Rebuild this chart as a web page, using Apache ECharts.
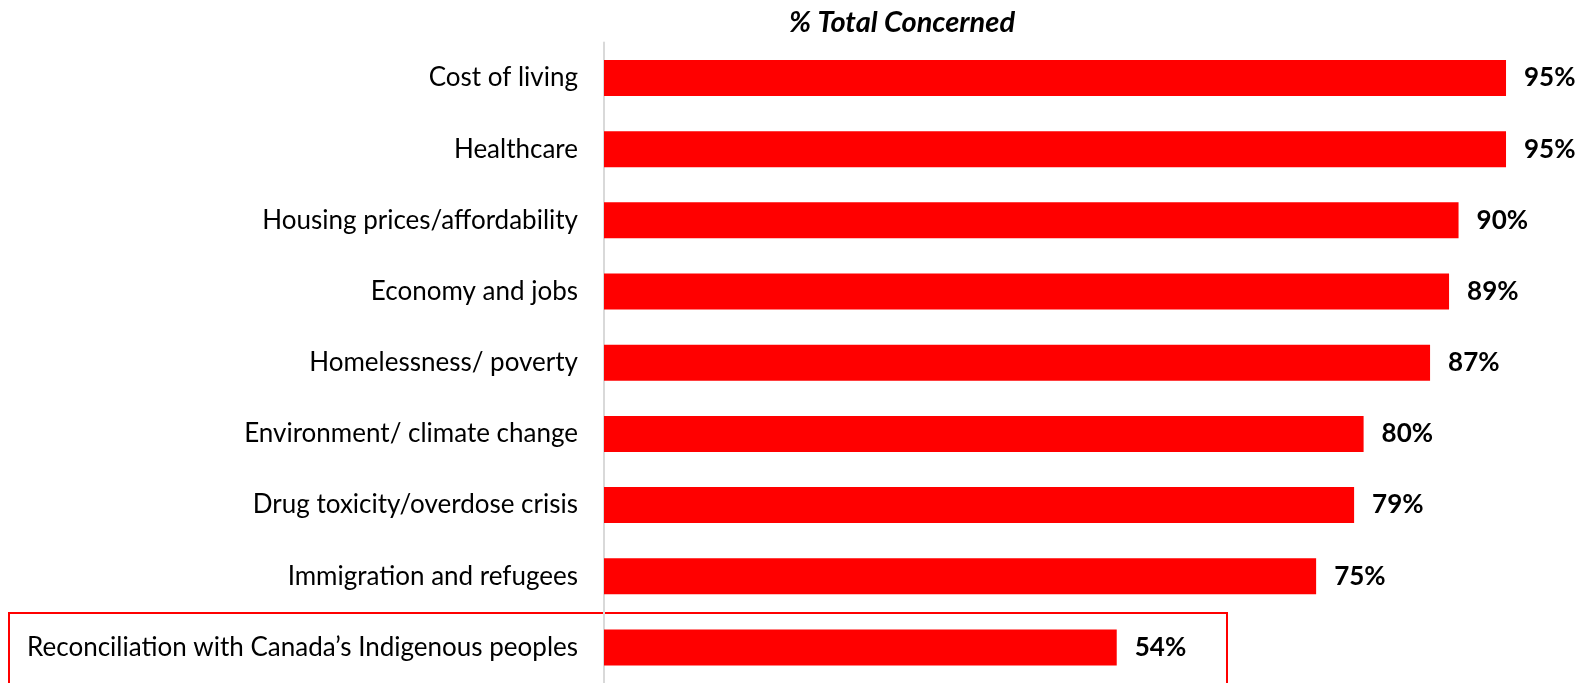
<!DOCTYPE html>
<html><head><meta charset="utf-8">
<script src="https://cdn.jsdelivr.net/npm/echarts@6/dist/echarts.min.js"></script>
<style>html,body{margin:0;padding:0;background:#fff}#c{width:1583px;height:683px}</style>
</head><body><div id="c"></div>
<script>
const categories = ["Cost of living","Healthcare","Housing prices/affordability","Economy and jobs","Homelessness/ poverty","Environment/ climate change","Drug toxicity/overdose crisis","Immigration and refugees","Reconciliation with Canada\u2019s Indigenous peoples"];
const values = [95,95,90,89,87,80,79,75,54];
const titleText = "% Total Concerned";
const FONT = "Lato";

const chart = echarts.init(document.getElementById('c'));
chart.setOption({
  animation:false,
  title:{text:titleText,left:897,top:3,textAlign:'center',textStyle:{fontFamily:FONT,fontSize:29,fontWeight:'bold',fontStyle:'italic',color:'#000'}},
  grid:{left:604,top:42.4,width:949.5,height:641.25,containLabel:false},
  xAxis:{type:'value',min:0,max:100,show:false},
  yAxis:{type:'category',data:categories,inverse:true,
    axisLine:{show:true,lineStyle:{color:'#d9d9d9',width:2}},
    axisTick:{show:false},
    axisLabel:{margin:26,fontFamily:FONT,fontSize:26,color:'#000'}},
  series:[{type:'bar',data:values,barWidth:36,itemStyle:{color:'#ff0000'},
    label:{show:true,position:'right',distance:18,formatter:'{c}%',fontFamily:FONT,fontSize:26,fontWeight:'bold',color:'#000'}}],
  graphic:[{type:'rect',shape:{x:9,y:613,width:1218,height:80},style:{fill:'none',stroke:'#ff0000',lineWidth:2}}]
});
</script></body></html>
